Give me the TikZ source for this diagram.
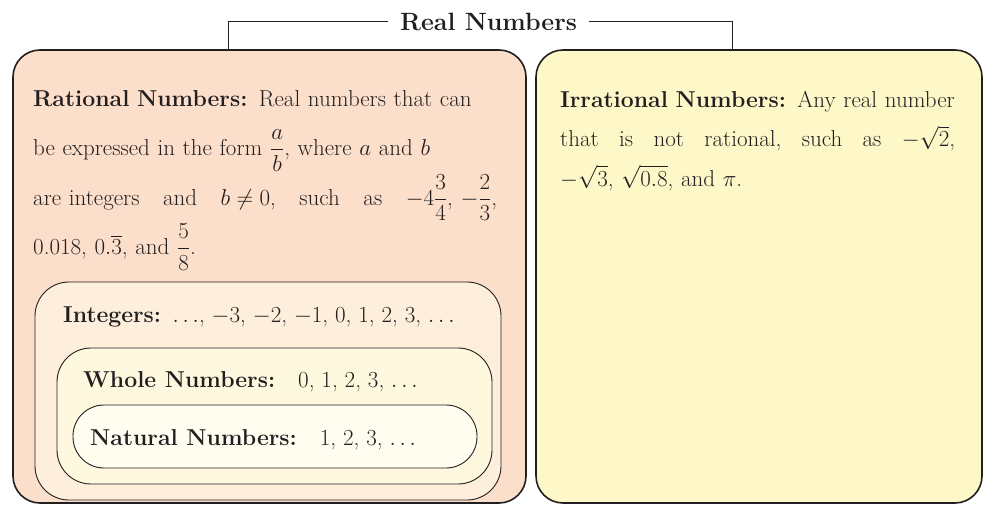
\documentclass[tikz,border=0pt]{standalone}
\usepackage{fix-cm}
\usepackage{amsmath,amssymb}
\usepackage{tikz}
\usetikzlibrary{positioning,calc}

\definecolor{ink}{HTML}{231F20}
\definecolor{ratfill}{HTML}{FCDFCB}
\definecolor{intfill}{HTML}{FDEFDB}
\definecolor{wholefill}{HTML}{FEF8DF}
\definecolor{natfill}{HTML}{FFFCF0}
\definecolor{irrfill}{HTML}{FEF8C8}

\begin{document}
\begin{tikzpicture}[
    x=1pt, y=-1pt,
    outerbox/.style={rectangle, draw=ink, line width=1.6pt, rounded corners=27pt, inner sep=0pt},
    setbox/.style={rectangle, draw=ink, line width=0.9pt, inner sep=0pt},
    txt/.style={anchor=base west, inner sep=0pt, text=ink, font=\fontsize{23}{49.5}\selectfont},
    bracket/.style={draw=ink, line width=1pt}
]
\useasboundingbox (0,0) rectangle (988,506);

% Boxes
\node[outerbox, fill=ratfill, minimum width=513pt, minimum height=453pt] (rational) at (269.5,276.5) {};
\node[outerbox, fill=irrfill, minimum width=446pt, minimum height=453pt] (irrational) at (759,276.5) {};

\node[setbox, fill=intfill, rounded corners=34pt, minimum width=466pt, minimum height=218pt] (integers) at (268,391) {};
\node[setbox, fill=wholefill, rounded corners=34pt, minimum width=435pt, minimum height=136pt] (whole) at (274.5,416) {};
\node[setbox, fill=natfill, rounded corners=31pt, minimum width=404pt, minimum height=63pt] (natural) at (275,436.5) {};

% Texts
\node[txt, text width=470pt] (rattext) at (33,106) {\textbf{Rational Numbers:} Real numbers that can\\
be expressed in the form $\dfrac{a}{b}$, where $a$ and $b$\\
\leavevmode\hbox to 464pt{are integers\hfill and\hfill $b \neq 0$,\hfill such\hfill as\hfill $-4\dfrac{3}{4}$, $-\dfrac{2}{3}$,}\\
0.018, $0.\overline{3}$, and $\dfrac{5}{8}$.};

\node[txt, text width=420pt, font=\fontsize{23}{39.5}\selectfont] (irrtext) at (560,107) {\textbf{Irrational Numbers:} Any real number\\
\leavevmode\hbox to 395pt{that\hfill is\hfill not\hfill rational,\hfill such\hfill as\hfill $-\sqrt{2}$,}\\
$-\sqrt{3}$, $\sqrt{0.8}$, and $\pi$.};

\node[txt] (inttext) at (63,322) {\textbf{Integers:}\enspace $\ldots$, $-3$, $-2$, $-1$, 0, 1, 2, 3, $\ldots$};
\node[txt] (wholetext) at (83,387) {\textbf{Whole Numbers:}\quad 0, 1, 2, 3, $\ldots$};
\node[txt] (nattext) at (90,445) {\textbf{Natural Numbers:}\quad 1, 2, 3, $\ldots$};

% Title and bracket
\node[anchor=base, inner xsep=12pt, inner ysep=0pt, text=ink, font=\fontsize{25}{30}\selectfont\bfseries] (title) at (488.5,30) {Real Numbers};
\coordinate (ratjoin) at (228,50);
\coordinate (irrjoin) at (732,50);
\draw[bracket] (title.west) -| (ratjoin);
\draw[bracket] (title.east) -| (irrjoin);

\end{tikzpicture}
\end{document}
